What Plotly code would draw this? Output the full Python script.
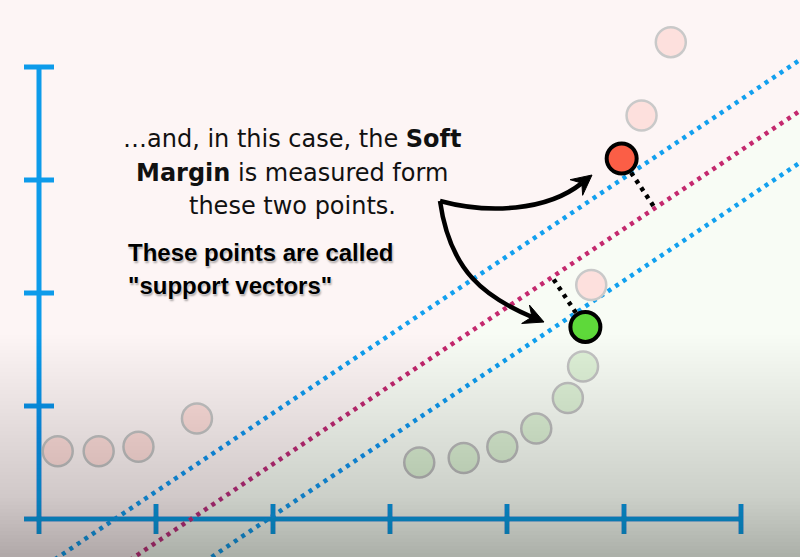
import numpy as np
import plotly.graph_objects as go

# ---------------- data (axis units: x ticks 1..6, y ticks 1..4) ----------------
red_x = [0.16, 0.51, 0.85, 1.35, 4.72, 5.15, 5.40]
red_y = [0.60, 0.60, 0.64, 0.89, 2.07, 3.57, 4.22]
green_x = [3.25, 3.63, 3.96, 4.25, 4.52, 4.65]
green_y = [0.50, 0.54, 0.64, 0.80, 1.07, 1.35]
sv_red_x = [4.98]
sv_red_y = [3.19]
sv_green_x = [4.67]
sv_green_y = [1.70]
x_ticks = [1, 2, 3, 4, 5, 6]
y_ticks = [1, 2, 3, 4]
margin_slope = 0.694
margin_x_intercepts = [0.65, 1.30, 1.96]  # upper margin, hyperplane, lower margin

# ---------------- geometry helpers ----------------
W, H = 800, 557
X0, X1 = -39 / 117, 761 / 117
Y0, Y1 = -38 / 113, 519 / 113
SX = W / (X1 - X0)
SY = H / (Y1 - Y0)


def to_px(x, y):
    return np.array([(x - X0) * SX, (Y1 - y) * SY])


def to_data(px, py):
    return X0 + px / SX, Y1 - py / SY


def path_from_px(points, close=False, cubic=False):
    pts = [to_data(*p) for p in points]
    if cubic:
        s = "M%.5f,%.5f C" % pts[0] + " ".join("%.5f,%.5f" % p for p in pts[1:])
    else:
        s = "M" + " L".join("%.5f,%.5f" % p for p in pts)
    if close:
        s += " Z"
    return s


AXIS_BLUE = "#0d9bea"
LINE_BLUE = "#12a0ef"
MAGENTA = "#c4296e"

fig = go.Figure()
shapes = []

# background: pink above hyperplane, greenish below
c_mid = margin_x_intercepts[1]
xa, xb = X0 - 0.5, X1 + 0.5
shapes.append(dict(type="path", xref="x", yref="y", layer="below",
                   path="M%f,%f L%f,%f L%f,%f L%f,%f Z" % (
                       xa, margin_slope * (xa - c_mid), xb, margin_slope * (xb - c_mid),
                       xb, Y0 - 1, xa, Y0 - 1),
                   fillcolor="#f8fcf5", line=dict(width=0)))

# axes drawn as lines with cross ticks
tick_half_x = 15 / SX
tick_half_y = 15 / SY
shapes.append(dict(type="line", xref="x", yref="y", layer="below",
                   x0=-tick_half_x, x1=x_ticks[-1], y0=0, y1=0,
                   line=dict(color=AXIS_BLUE, width=5)))
shapes.append(dict(type="line", xref="x", yref="y", layer="below",
                   x0=0, x1=0, y0=-tick_half_y, y1=y_ticks[-1],
                   line=dict(color=AXIS_BLUE, width=5)))
for t in x_ticks:
    shapes.append(dict(type="line", xref="x", yref="y", layer="below",
                       x0=t, x1=t, y0=-tick_half_y, y1=tick_half_y,
                       line=dict(color=AXIS_BLUE, width=5)))
for t in y_ticks:
    shapes.append(dict(type="line", xref="x", yref="y", layer="below",
                       x0=-tick_half_x, x1=tick_half_x, y0=t, y1=t,
                       line=dict(color=AXIS_BLUE, width=5)))

# margin lines and hyperplane
line_colors = [LINE_BLUE, MAGENTA, LINE_BLUE]
for c, col in zip(margin_x_intercepts, line_colors):
    xs = np.array([X0 - 0.3, X1 + 0.3])
    fig.add_trace(go.Scatter(x=xs, y=margin_slope * (xs - c), mode="lines",
                             line=dict(color=col, width=4.5, dash="4px,5px"),
                             hoverinfo="skip", showlegend=False))

# perpendicular dotted distance from support vectors to hyperplane (screen space)
P0 = to_px(c_mid, 0)
d = to_px(c_mid + 1, margin_slope) - P0
d = d / np.linalg.norm(d)
for sx, sy in [(sv_red_x[0], sv_red_y[0]), (sv_green_x[0], sv_green_y[0])]:
    S = to_px(sx, sy)
    foot = P0 + np.dot(S - P0, d) * d
    v = foot - S
    start = S + 17 * v / np.linalg.norm(v)
    a = to_data(*start)
    b = to_data(*foot)
    fig.add_trace(go.Scatter(x=[a[0], b[0]], y=[a[1], b[1]], mode="lines",
                             line=dict(color="black", width=4.5, dash="4px,5px"),
                             hoverinfo="skip", showlegend=False))

# faded points
fig.add_trace(go.Scatter(x=red_x, y=red_y, mode="markers",
                         marker=dict(size=30, color="#fde0dd",
                                     line=dict(color="#c9c9c9", width=2.5)),
                         showlegend=False))
fig.add_trace(go.Scatter(x=green_x, y=green_y, mode="markers",
                         marker=dict(size=30, color="#dff1d8",
                                     line=dict(color="#c4c4c4", width=2.5)),
                         showlegend=False))
# support vectors
fig.add_trace(go.Scatter(x=sv_red_x, y=sv_red_y, mode="markers",
                         marker=dict(size=30, color="#fb5e46",
                                     line=dict(color="black", width=4)),
                         showlegend=False))
fig.add_trace(go.Scatter(x=sv_green_x, y=sv_green_y, mode="markers",
                         marker=dict(size=30, color="#5ed93a",
                                     line=dict(color="black", width=4)),
                         showlegend=False))


# curved arrows
def arrow(start, c1, tip, u, L=20, Wd=10, k=45):
    tip = np.array(tip, float)
    u = np.array(u, float)
    u = u / np.linalg.norm(u)
    n = np.array([-u[1], u[0]])
    notch = tip - 0.65 * L * u
    c2 = notch - k * u
    curve = path_from_px([start, c1, c2, notch], cubic=True)
    head = path_from_px([tip, tip - L * u + Wd * n, notch, tip - L * u - Wd * n], close=True)
    shapes.append(dict(type="path", xref="x", yref="y", layer="above", path=curve,
                       line=dict(color="black", width=4.5)))
    shapes.append(dict(type="path", xref="x", yref="y", layer="above", path=head,
                       fillcolor="black", line=dict(color="black", width=1)))


arrow((440, 201), (488, 214), (592, 175), (1, -0.8))
arrow((440, 201), (450, 272), (544, 322), (1, 0.42), k=50)

# bottom grey vignette: cumulative overlapping strips
g_top, g_bot, a_max = 335, H, 0.40
n_strips = 60
edges = np.linspace(g_top, g_bot, n_strips + 1)
A = a_max * ((edges - g_top) / (g_bot - g_top)) ** 1.1
for i in range(n_strips):
    b = 1 - (1 - A[i + 1]) / (1 - A[i])
    yy = to_data(0, edges[i])[1]
    shapes.append(dict(type="rect", xref="x", yref="y", layer="above",
                       x0=X0 - 1, x1=X1 + 1, y0=Y0 - 1, y1=yy,
                       fillcolor="rgba(120,121,118,%.4f)" % b, line=dict(width=0)))

annotations = []
main_lines = ["…and, in this case, the <b>Soft</b>",
              "<b>Margin</b> is measured form",
              "these two points."]
for i, txt in enumerate(main_lines):
    ax_, ay_ = to_data(292, 139 + 33.5 * i)
    annotations.append(dict(x=ax_, y=ay_, xref="x", yref="y", text=txt, showarrow=False,
                            xanchor="center", yanchor="middle",
                            font=dict(family="DejaVu Sans", size=24, color="#111111")))
bold_lines = ["These points are called", "\"support vectors\""]
for i, txt in enumerate(bold_lines):
    ax_, ay_ = to_data(126, 252 + 33 * i)
    annotations.append(dict(x=ax_, y=ay_, xref="x", yref="y", text="<b>%s</b>" % txt,
                            showarrow=False, xanchor="left", yanchor="middle",
                            font=dict(family="Liberation Sans", size=24, color="black",
                                      shadow="0px 0px 2px white, 1px 2px 2px rgba(0,0,0,0.35)")))

fig.update_layout(
    width=W, height=H,
    margin=dict(l=0, r=0, t=0, b=0, pad=0),
    paper_bgcolor="#fdf5f5", plot_bgcolor="#fdf5f5",
    xaxis=dict(range=[X0, X1], visible=False, fixedrange=True),
    yaxis=dict(range=[Y0, Y1], visible=False, fixedrange=True),
    shapes=shapes, annotations=annotations, showlegend=False,
)
fig.write_html("out.html", config={"displayModeBar": False},
               post_script="document.body.style.margin='0px';document.body.style.overflow='hidden';")
